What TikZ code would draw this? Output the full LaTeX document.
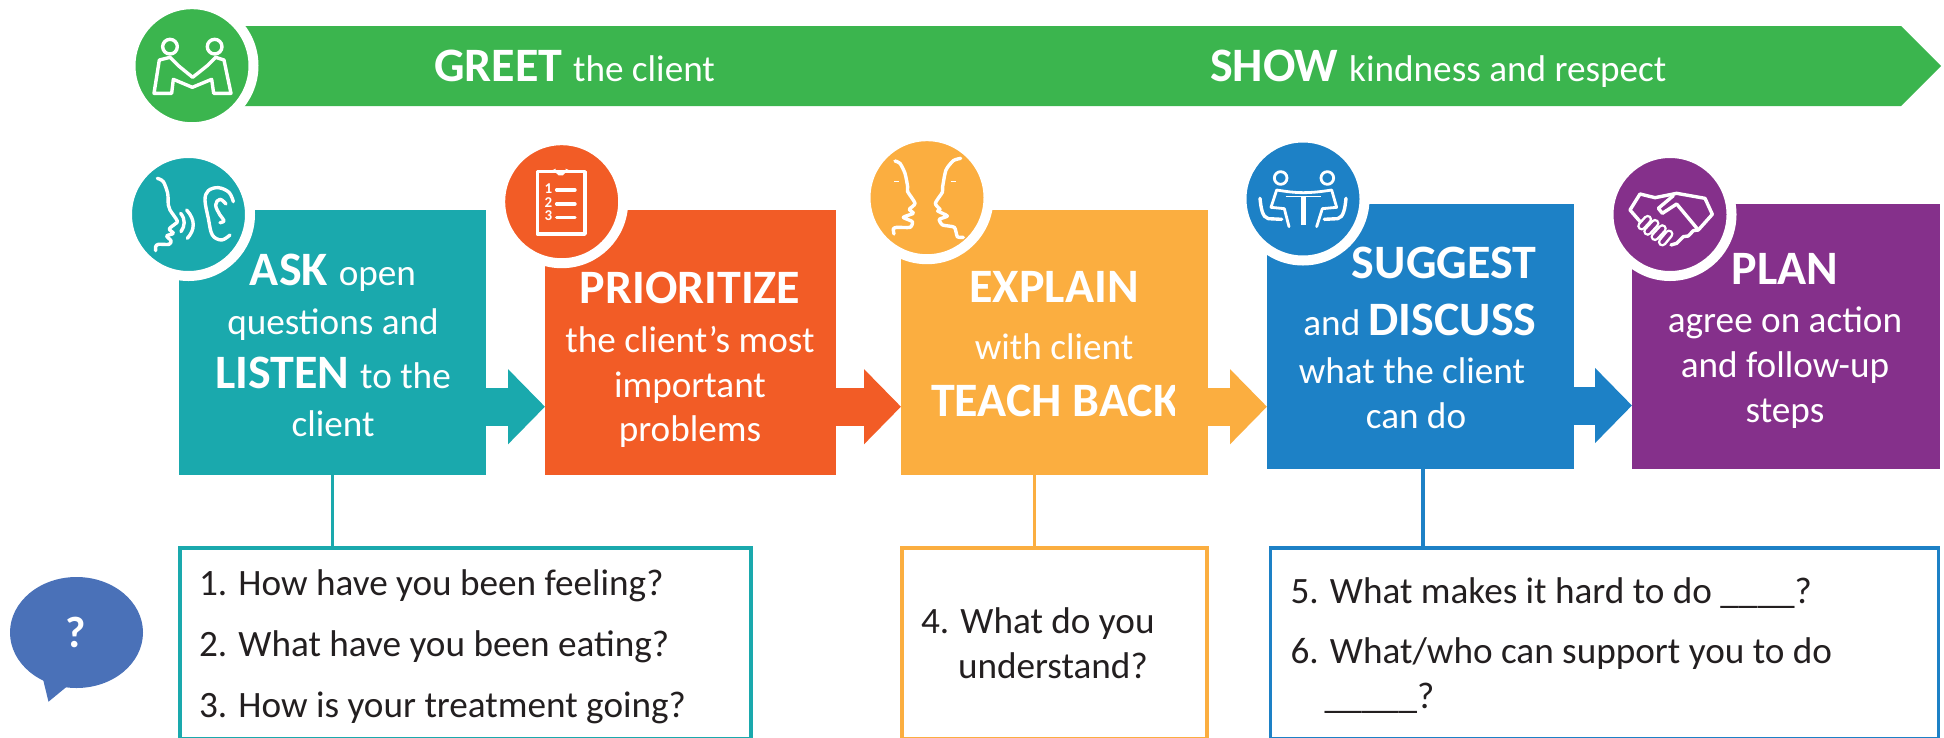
\documentclass[tikz,border=0pt]{standalone}
\usepackage{fontspec}
\setmainfont{Carlito}
\usetikzlibrary{arrows.meta}
\definecolor{cgreen}{HTML}{3BB54E}
\definecolor{cteal}{HTML}{1AA9AD}
\definecolor{corange}{HTML}{F25C26}
\definecolor{cyellow}{HTML}{FBAE40}
\definecolor{cblue}{HTML}{1D81C6}
\definecolor{cpurple}{HTML}{85308B}
\definecolor{cbubble}{HTML}{4A71B8}
\definecolor{ctext}{HTML}{231F20}
\newcommand{\hd}{\bfseries\fontsize{48}{48}\selectfont}
\newcommand{\tx}{\mdseries\fontsize{37.2}{37.2}\selectfont}
\newcommand{\qs}{\fontsize{37.2}{37.2}\selectfont}
\tikzset{
  stepbox/.style={inner sep=0pt,outer sep=0pt,anchor=north west},
  ringdot/.style={circle,draw=white,line width=10pt,minimum size=123pt,inner sep=0pt,outer sep=0pt,fill=#1},
  flowarr/.style={line width=38pt,draw=#1,line cap=butt,-{Triangle[length=37pt,width=73pt]},shorten >=0pt},
  wordl/.style={text=white,anchor=base,inner sep=0pt,outer sep=0pt},
  qline/.style={text=ctext,anchor=base west,inner sep=0pt,outer sep=0pt},
  qbox/.style={draw=#1,line width=3.6pt,inner sep=0pt,outer sep=0pt,anchor=north west,fill=white},
  stem/.style={draw=#1,line width=3.5pt},
  ico/.style={draw=white,line width=3.4pt,line cap=round,line join=round},
  zoomed/.style={x=0.3333pt,y=-0.3333pt},
}
\begin{document}
\begin{tikzpicture}[x=1pt,y=-1pt]
\useasboundingbox (0,0) rectangle (1944,737);
% banner
\coordinate (ba) at (244,26);\coordinate (bb) at (1901,26);\coordinate (bc) at (1941,66);\coordinate (bd) at (1901,106);\coordinate (be) at (244,106);
\fill[cgreen] (ba)--(bb)--(bc)--(bd)--(be)--cycle;
\node[ringdot=cgreen] (greetdot) at (192,65.7) {};
\node[wordl,anchor=base west] (greet) at (434,81.5) {\hd GREET \tx the client};
\node[wordl,anchor=base west] (show) at (1210,81.5) {\hd SHOW \tx kindness and respect};
% step boxes
\node[stepbox,fill=cteal,minimum width=307pt,minimum height=265pt] (ask) at (179,210) {};
\node[stepbox,fill=corange,minimum width=291pt,minimum height=265pt] (prio) at (545,210) {};
\node[stepbox,fill=cyellow,minimum width=307pt,minimum height=265pt] (expl) at (901,210) {};
\node[stepbox,fill=cblue,minimum width=307pt,minimum height=265pt] (sugg) at (1267,204) {};
\node[stepbox,fill=cpurple,minimum width=308pt,minimum height=265pt] (plan) at (1632,204) {};
% flow arrows
\draw[flowarr=cteal] (ask.east |- 0,406.7) -- (prio.west |- 0,406.7);
\draw[flowarr=corange] (prio.east |- 0,406.7) -- (expl.west |- 0,406.7);
\draw[flowarr=cyellow] (expl.east |- 0,406.7) -- (sugg.west |- 0,406.7);
\draw[flowarr=cblue] (sugg.east |- 0,405.5) -- (plan.west |- 0,405.5);
% circles
\node[ringdot=cteal] (askdot) at (188.5,214.5) {};
\node[ringdot=corange] (priodot) at (561.7,201.7) {};
\node[ringdot=cyellow] (expldot) at (927,197.7) {};
\node[ringdot=cblue] (suggdot) at (1303,199) {};
\node[ringdot=cpurple] (plandot) at (1670,214.5) {};
% step text
\node[wordl] (a1) at (333,285) {\hd ASK \tx open};
\node[wordl] (a2) at (333,334) {\tx questions and};
\node[wordl] (a3) at (333,388) {\hd LISTEN \tx to the};
\node[wordl] (a4) at (333,436) {\tx client};
\node[wordl] (p1) at (690,303) {\hd PRIORITIZE};
\node[wordl] (p2) at (690,352) {\tx the client’s most};
\node[wordl] (p3) at (690,397) {\tx important};
\node[wordl] (p4) at (690,441) {\tx problems};
\node[wordl] (e1) at (1054,302) {\hd EXPLAIN};
\node[wordl] (e2) at (1054,359) {\tx with client};
\begin{scope}
\clip (901,360) rectangle (1174,430);
\node[wordl,anchor=base west] (e3) at (931,416) {\hd TEACH BACK};
\end{scope}
\node[wordl] (s1) at (1444,278) {\hd SUGGEST};
\node[wordl] (s2) at (1420,335) {\tx and \hd DISCUSS};
\node[wordl] (s3) at (1412,383) {\tx what the client};
\node[wordl] (s4) at (1416,428) {\tx can do};
\node[wordl] (l1) at (1785,284) {\hd PLAN};
\node[wordl] (l2) at (1785,332) {\tx agree on action};
\node[wordl] (l3) at (1785,377) {\tx and follow-up};
\node[wordl] (l4) at (1785,422) {\tx steps};
% question boxes
\node[qbox=cteal,minimum width=571pt,minimum height=190.5pt] (q1) at (180,548) {};
\node[qbox=cyellow,minimum width=305pt,minimum height=190.5pt] (q2) at (902,548) {};
\node[qbox=cblue,minimum width=668pt,minimum height=190.5pt] (q3) at (1270.5,548) {};
\draw[stem=cteal] (332.6,475) -- (332.6,475 |- q1.north);
\draw[stem=cyellow] (1034.7,475) -- (1034.7,475 |- q2.north);
\draw[stem=cblue] (1423,469) -- (1423,469 |- q3.north);
\node[qline] (t1) at (199,595) {\qs 1. How have you been feeling?};
\node[qline] (t2) at (199,656) {\qs 2. What have you been eating?};
\node[qline] (t3) at (199,717) {\qs 3. How is your treatment going?};
\node[qline] (t4) at (921,633) {\qs 4. What do you};
\node[qline] (t4b) at (958,678) {\qs understand?};
\node[qline] (t5) at (1290.5,603) {\qs 5. What makes it hard to do \_\_\_\_?};
\node[qline] (t6) at (1290.5,663) {\qs 6. What/who can support you to do};
\node[qline] (t6b) at (1324.5,708) {\qs \_\_\_\_\_?};
% bubble
\fill[cbubble] (76.5,632.5) ellipse [x radius=66.5,y radius=55.5];
\fill[cbubble] (42,675) -- (48.5,701.7) -- (70,684) -- cycle;
\node[text=white,inner sep=0pt] (qm) at (75.5,632) {\bfseries\fontsize{44}{44}\selectfont ?};
% greet icon
\begin{scope}[shift={(120,0)},zoomed]
\draw[ico] (150,140) circle (22);
\draw[ico] (284,140) circle (22);
\draw[ico] (118,180) -- (102,280) -- (155,280) -- (160,238) -- (217,262) -- (275,238) -- (281,280) -- (333,280) -- (312,180) -- (287,172) -- (262,197) -- (218,232) -- (175,197) -- (150,172) -- cycle;
\end{scope}
% ask icon
\begin{scope}[shift={(125,150)},zoomed]
\draw[ico] plot[smooth,tension=.5] coordinates {(97,85) (115,95) (128,130) (130,165) (135,180) (157,213) (150,222) (133,237) (145,250) (125,258) (138,272) (132,283) (100,283) (92,290) (92,302)};
\draw[ico] (167,190) .. controls (182,208) and (180,228) .. (168,245);
\draw[ico] (185,180) .. controls (212,210) and (210,240) .. (187,265);
\draw[ico] plot[smooth,tension=.6] coordinates {(325,155) (312,127) (280,113) (250,122) (240,150) (250,205) (262,255) (290,270) (315,255)};
\draw[ico] plot[smooth,tension=.7] coordinates {(303,162) (285,148) (272,165) (285,195) (297,212) (285,218)};
\end{scope}
% clipboard icon
\begin{scope}[shift={(495,150)},zoomed]
\draw[ico] (127,65) rectangle (270,252);
\fill[white] (160,66) -- (182,56) arc[start angle=200,end angle=-20,radius=16] -- (235,66) -- cycle;
\foreach \yy/\nn in {120/1,162/2,203/3}{
  \draw[ico] (185,\yy) -- (240,\yy);
  \node[text=white,inner sep=0pt] (cn\nn) at (160,\yy-5) {\bfseries\fontsize{15}{15}\selectfont\nn};
}
\end{scope}
% faces icon
\begin{scope}[shift={(860,130)},zoomed]
\draw[ico] plot[smooth,tension=.4] coordinates {(105,93) (120,100) (135,130) (143,170) (143,185) (165,220) (148,238) (160,250) (130,262) (157,275) (150,292) (110,292) (100,297) (102,312)};
\draw[ico] plot[smooth,tension=.4] coordinates {(302,85) (280,92) (258,120) (248,170) (247,187) (226,220) (240,238) (233,243) (262,258) (238,268) (248,285) (283,292) (292,320) (310,322)};
\draw[white,line width=1.6pt] (103,155) -- (117,155) (272,155) -- (287,155);
\end{scope}
% meeting icon
\begin{scope}[shift={(1235,130)},zoomed]
\draw[ico,line width=2.8pt] (137,144) circle (19) (277,144) circle (19);
\draw[ico,line width=2.8pt] (162,290) -- (148,236) -- (108,232) -- (125,180) .. controls (155,185) and (180,188) .. (205,188) .. controls (230,188) and (260,185) .. (290,180) -- (305,232) -- (262,236) -- (245,290);
\draw[white,line width=1.3pt] (152,200) -- (258,200);
\draw[white,line width=4.5pt] (205,200) -- (205,285);
\draw[ico,line width=3.4pt] (75,205) .. controls (78,235) and (82,262) .. (100,266) -- (140,268);
\draw[ico,line width=3.4pt] (333,205) .. controls (330,235) and (326,262) .. (308,266) -- (268,268);
\end{scope}
% handshake icon
\begin{scope}[shift={(1605,130)},zoomed]
\draw[ico] (108,278) -- (75,240) -- (105,192) -- (150,203) -- (215,190) -- (300,205) -- (322,253) -- (280,300);
\draw[ico] (205,197) -- (160,235) -- (172,250) -- (215,222) -- (280,300) -- (265,302) -- (250,318) -- (235,320) -- (215,340) -- (198,345);
\foreach \xa/\ya/\xb/\yb in {128/268/110/288, 150/280/128/304, 172/296/150/320, 192/312/172/336}{
  \draw[white,line width=9pt,line cap=round] (\xa,\ya) -- (\xb,\yb);
  \draw[cpurple,line width=4pt,line cap=round] (\xa,\ya) -- (\xb,\yb);
}
\end{scope}
\end{tikzpicture}
\end{document}
